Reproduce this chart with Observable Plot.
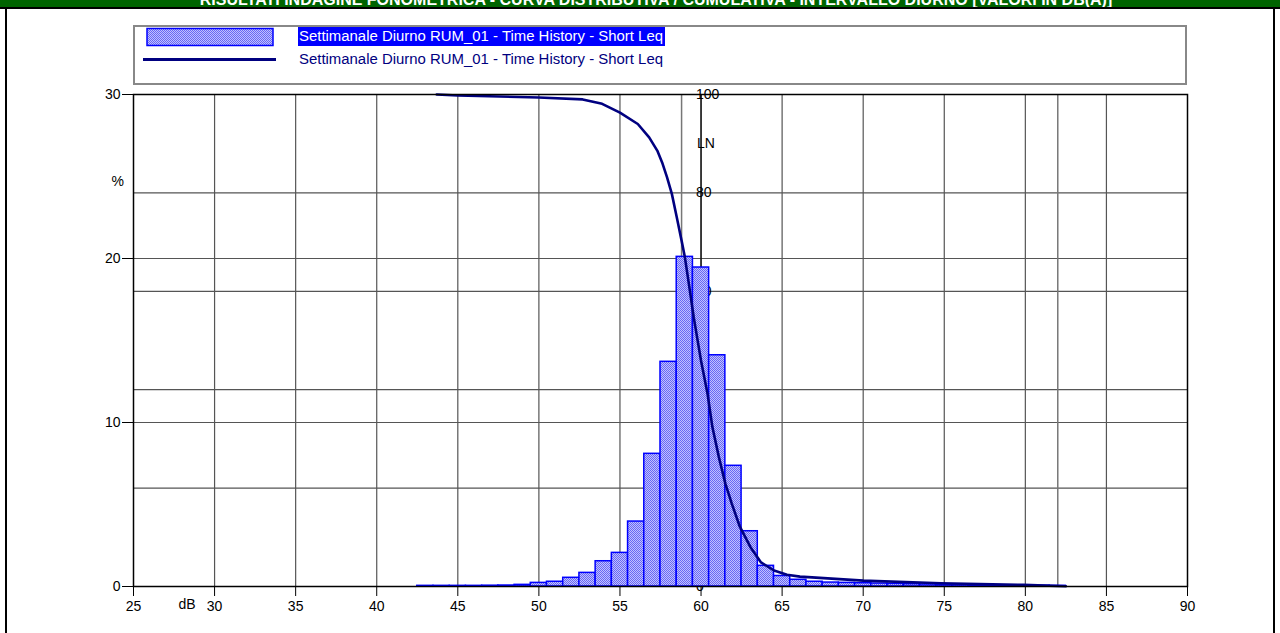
<!DOCTYPE html>
<html>
<head>
<meta charset="utf-8">
<script src="https://cdn.jsdelivr.net/npm/d3@7"></script>
<script src="https://cdn.jsdelivr.net/npm/@observablehq/plot@0.6"></script>
<style>
  html, body { margin: 0; padding: 0; background: #fff; }
  #page { position: relative; width: 1280px; height: 633px; overflow: hidden; background: #fff; font-family: "Liberation Sans", Arial, sans-serif; }
  #titlebar { position: absolute; left: 0; top: 0; width: 1280px; height: 7px; background: #006400; overflow: hidden; }
  #titlebar span { position: absolute; left: 0; top: -9px; width: 1280px; padding-left: 32px; box-sizing: border-box; text-align: center; color: #fff; font-weight: bold; font-size: 16px; line-height: 17px; white-space: nowrap; }
  #topline { position: absolute; left: 0; top: 7px; width: 1280px; height: 2px; background: #000; }
  #lborder { position: absolute; left: 5px; top: 7px; width: 2px; height: 626px; background: #000; }
  #rborder { position: absolute; left: 1273px; top: 7px; width: 2px; height: 626px; background: #000; }
  #chart { position: absolute; left: 0; top: 0; }
  #legend { position: absolute; left: 133px; top: 25px; }
</style>
</head>
<body>
<div id="page">
  <div id="chart"></div>
  <div id="titlebar"><span id="titletext"></span></div>
  <div id="topline"></div>
  <div id="lborder"></div>
  <div id="rborder"></div>
  <svg id="legend" width="1055" height="60"></svg>
</div>
<script>
// ---------- data ----------
const titleText = "RISULTATI INDAGINE FONOMETRICA - CURVA DISTRIBUTIVA / CUMULATIVA - INTERVALLO DIURNO [VALORI IN DB(A)]";
const seriesName = "Settimanale Diurno RUM_01 - Time History - Short Leq";

// histogram: class centre (dB) and percentage of time
const binDb  = [43, 44, 45, 46, 47, 48, 49, 50, 51, 52, 53, 54, 55, 56, 57, 58, 59, 60, 61, 62, 63, 64, 65, 66, 67, 68, 69, 70, 71, 72, 73, 74, 75, 76, 77, 78, 79, 80, 81, 82];
const binPct = [0.04, 0.04, 0.04, 0.04, 0.05, 0.06, 0.1, 0.22, 0.29, 0.53, 0.83, 1.54, 2.05, 3.96, 8.09, 13.7, 20.1, 19.45, 14.1, 7.36, 3.37, 1.26, 0.64, 0.41, 0.29, 0.24, 0.22, 0.2, 0.18, 0.16, 0.14, 0.12, 0.1, 0.1, 0.09, 0.08, 0.07, 0.06, 0.05, 0.04];

// cumulative LN curve (dB, % exceeded)
const curveDb = [43.7, 45, 50, 52.7, 53.9, 55.0, 56.1, 56.8, 57.3, 57.6, 57.9, 58.2, 58.5, 58.8, 59.0, 59.25, 59.55, 60.0, 60.4, 60.7, 61.1, 61.5, 61.9, 62.4, 63.05, 63.7, 64.5, 65.3, 66.1, 66.6, 70.0, 74.8, 79.9, 82.5];
const curveLn = [100, 99.8, 99.4, 99.0, 98.1, 96.3, 94.0, 91.3, 88.6, 86.2, 83.2, 79.8, 75.1, 70.3, 67.0, 61.5, 54.7, 45.9, 39.2, 32.4, 26.3, 20.9, 16.8, 12.1, 8.0, 4.9, 3.25, 2.4, 2.0, 1.9, 1.2, 0.67, 0.34, 0.06];

// axes
const xTicks = [25, 30, 35, 40, 45, 50, 55, 60, 65, 70, 75, 80, 85, 90];
const xGrid  = [30, 35, 40, 45, 50, 55, 60, 65, 70, 75, 80, 85];
const yTicks = [0, 10, 20, 30];
const yGrid  = [10, 20];
const yMax = 30;
const lnMax = 100;
const lnTicks = [0, 20, 40, 60, 80, 100];
const lnGrid = [20, 40, 60, 80];
const lnAxisAt = 60;        // dB position of the LN axis
const lnTitleAt = 90;       // LN value where "LN" title sits
const markerDb = [58.8, 82.0];

// ---------- build ----------
const bins = binDb.map((d, i) => ({db: d, pct: binPct[i]}));
const curve = curveDb.map((d, i) => ({db: d, ln: curveLn[i]}));
const lnToY = v => v * yMax / lnMax;

const FS = 14;
const gridColor = "#555";
const plot = Plot.plot({
  width: 1280,
  height: 633,
  marginLeft: 133,
  marginRight: 93,
  marginTop: 94,
  marginBottom: 47,
  x: {domain: [25, 90], label: null},
  y: {domain: [0, 30], label: null},
  style: {fontFamily: "'Liberation Sans', Arial, sans-serif", fontSize: FS + "px", color: "#000", background: "transparent", overflow: "visible"},
  marks: [
    Plot.gridX(xGrid, {stroke: gridColor, strokeOpacity: 1, strokeWidth: 1.2}),
    Plot.gridY(yGrid, {stroke: gridColor, strokeOpacity: 1, strokeWidth: 1.2}),
    Plot.gridY(lnGrid.map(lnToY), {stroke: gridColor, strokeOpacity: 1, strokeWidth: 1.2}),
    Plot.ruleX(markerDb, {stroke: "#777", strokeWidth: 1.5}),
    Plot.ruleX([lnAxisAt], {stroke: "#000", strokeWidth: 1.2}),
    Plot.text(lnTicks, {x: () => lnAxisAt, y: d => lnToY(d), text: d => String(d), textAnchor: "start", dx: -5, fill: "#000", fontSize: FS}),
    Plot.text(["LN"], {x: () => lnAxisAt, y: () => lnToY(lnTitleAt), text: d => d, textAnchor: "start", dx: -4, fill: "#000", fontSize: FS}),
    Plot.rectY(bins, {x1: d => d.db - 0.5, x2: d => d.db + 0.5, y1: 0, y2: "pct", fill: "url(#dither)", stroke: "#0000ff", strokeWidth: 1.5}),
    Plot.line(curve, {x: "db", y: d => lnToY(d.ln), stroke: "#000080", strokeWidth: 2.6, curve: "linear"}),
    Plot.frame({stroke: "#000", strokeWidth: 1.5}),
    Plot.axisX({ticks: xTicks, tickSize: 10, tickPadding: 5, tickFormat: d => String(d), label: null, fontSize: FS}),
    Plot.axisY({ticks: yTicks, tickSize: 11, tickPadding: 2, tickFormat: d => String(d), label: null, fontSize: FS}),
    Plot.text(["dB"], {frameAnchor: "bottom-left", text: d => d, dx: 45, dy: 22, fill: "#000", fontSize: FS}),
    Plot.text(["%"], {frameAnchor: "top-left", text: d => d, dx: -22, dy: 82, fill: "#000", fontSize: FS})
  ]
});

// dither pattern for the bars
const ns = "http://www.w3.org/2000/svg";
function addDither(svg, id) {
  const defs = document.createElementNS(ns, "defs");
  const pat = document.createElementNS(ns, "pattern");
  pat.setAttribute("id", id);
  pat.setAttribute("width", "2");
  pat.setAttribute("height", "2");
  pat.setAttribute("patternUnits", "userSpaceOnUse");
  const bg = document.createElementNS(ns, "rect");
  bg.setAttribute("width", "2"); bg.setAttribute("height", "2"); bg.setAttribute("fill", "#c0c0ff");
  pat.appendChild(bg);
  [[0, 0], [1, 1]].forEach(([x, y]) => {
    const r = document.createElementNS(ns, "rect");
    r.setAttribute("x", x); r.setAttribute("y", y);
    r.setAttribute("width", "1"); r.setAttribute("height", "1");
    r.setAttribute("fill", "#6868f4");
    pat.appendChild(r);
  });
  defs.appendChild(pat);
  svg.insertBefore(defs, svg.firstChild);
}
addDither(plot, "dither");
document.getElementById("chart").appendChild(plot);
document.getElementById("titletext").textContent = titleText;

// legend
const lg = document.getElementById("legend");
addDither(lg, "ditherL");
function el(tag, attrs, text) {
  const e = document.createElementNS(ns, tag);
  for (const k in attrs) e.setAttribute(k, attrs[k]);
  if (text) e.textContent = text;
  lg.appendChild(e);
  return e;
}
el("rect", {x: 1, y: 1, width: 1052, height: 58, fill: "#fff", stroke: "#888", "stroke-width": 2});
el("rect", {x: 14, y: 3.5, width: 126, height: 17, fill: "url(#ditherL)", stroke: "#0000ff", "stroke-width": 1.5});
el("rect", {x: 165, y: 2, width: 367, height: 19, fill: "#0000ff"});
el("text", {x: 166, y: 16, fill: "#fff", "font-family": "'Liberation Sans', Arial, sans-serif", "font-size": 14, textLength: 364, lengthAdjust: "spacingAndGlyphs"}, seriesName);
el("line", {x1: 10, x2: 143, y1: 34.5, y2: 34.5, stroke: "#000080", "stroke-width": 3});
el("text", {x: 166, y: 39, fill: "#000080", "font-family": "'Liberation Sans', Arial, sans-serif", "font-size": 14, textLength: 364, lengthAdjust: "spacingAndGlyphs"}, seriesName);
</script>
</body>
</html>
